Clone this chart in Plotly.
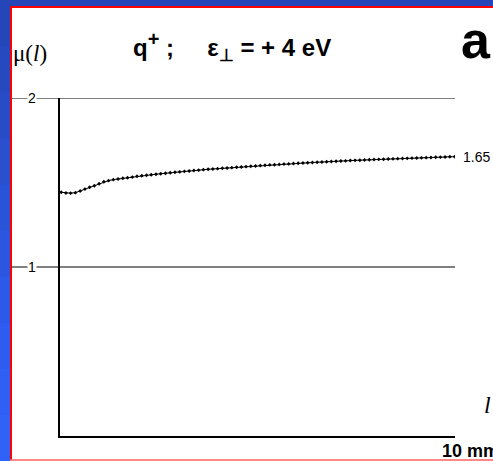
import plotly.graph_objects as go

# distance along the crystal (mm) and mu(l)
dist_mm = [round(0.03 + 0.12 * i, 2) for i in range(84)]
mu_vals = [
    1.442, 1.438, 1.437, 1.440, 1.450, 1.461, 1.472, 1.481, 1.493, 1.504,
    1.511, 1.517, 1.521, 1.525, 1.528, 1.532, 1.537, 1.540, 1.543, 1.546,
    1.549, 1.552, 1.555, 1.558, 1.561, 1.563, 1.566, 1.568, 1.571, 1.573,
    1.576, 1.578, 1.580, 1.582, 1.584, 1.586, 1.588, 1.590, 1.592, 1.594,
    1.596, 1.598, 1.600, 1.602, 1.604, 1.605, 1.607, 1.609, 1.610, 1.612,
    1.614, 1.615, 1.617, 1.618, 1.620, 1.621, 1.623, 1.624, 1.626, 1.627,
    1.628, 1.630, 1.631, 1.632, 1.633, 1.635, 1.636, 1.637, 1.638, 1.639,
    1.640, 1.641, 1.642, 1.643, 1.644, 1.645, 1.646, 1.647, 1.648, 1.649,
    1.650, 1.651, 1.652, 1.653,
]
grid_vals = [1, 2]
grid_labels = ['1', '2']
end_label = '1.65'

# left band of the slide, dark blue at the top to bright blue at the bottom
band_colors = ['#2446b8', '#2649c0', '#284cc8', '#2a50d0', '#2b53d8',
               '#2c56e0', '#2d59e8', '#2e5cf0', '#2f5ff5', '#3062f8']

W, H = 493, 461
L, R, T, B = 60, 38, 98, 25


def px(x):
    return (x - L) / (W - L - R)


def py(y):
    return (H - B - y) / (H - T - B)


fig = go.Figure()

fig.add_trace(
    go.Scatter(
        x=dist_mm,
        y=mu_vals,
        mode='lines+markers',
        line=dict(color='black', width=1),
        marker=dict(symbol='diamond', size=3, color='black'),
        showlegend=False,
        hoverinfo='skip',
    )
)

shapes = []
# slide frame: blue paper, white card, red border
shapes.append(dict(type='rect', xref='paper', yref='paper', layer='below',
                   x0=px(10), x1=px(W + 5), y0=py(H + 5), y1=py(6),
                   fillcolor='white', line=dict(width=0)))
step = H / len(band_colors)
for k, c in enumerate(band_colors):
    shapes.append(dict(type='rect', xref='paper', yref='paper', layer='below',
                       x0=px(-2), x1=px(10), y0=py((k + 1) * step + 1), y1=py(k * step),
                       fillcolor=c, line=dict(width=0)))
shapes.append(dict(type='line', xref='paper', yref='paper',
                   x0=px(11), x1=px(11), y0=py(6), y1=py(460),
                   line=dict(color='#ff0000', width=2)))
shapes.append(dict(type='line', xref='paper', yref='paper',
                   x0=px(10), x1=px(W), y0=py(7), y1=py(7),
                   line=dict(color='#ff0000', width=2)))
shapes.append(dict(type='line', xref='paper', yref='paper',
                   x0=px(10), x1=px(W), y0=py(460), y1=py(460),
                   line=dict(color='#ff6060', width=1.5)))
# grid lines running out to the left edge
for g in grid_vals:
    shapes.append(dict(type='line', xref='paper', yref='y',
                       x0=px(12), x1=1, y0=g, y1=g,
                       line=dict(color='black', width=1)))

annotations = []
for g, lab in zip(grid_vals, grid_labels):
    annotations.append(dict(x=px(27), y=g, xref='paper', yref='y', text=lab,
                            showarrow=False, bgcolor='white', borderpad=0,
                            yanchor='middle',
                            font=dict(family='Liberation Sans', size=14, color='black')))
annotations += [
    dict(x=px(11), y=py(53), xref='paper', yref='paper', xanchor='left', yanchor='middle',
         text='μ(<i>l</i>)', showarrow=False,
         font=dict(family='Liberation Serif', size=23, color='black')),
    dict(x=px(131), y=py(46), xref='paper', yref='paper', xanchor='left', yanchor='middle',
         text='<b>q<sup><span style="font-size:20px">+</span></sup> ;   '
              '  ε<sub>⊥</sub> = + 4 eV</b>', showarrow=False,
         font=dict(family='Liberation Sans', size=24, color='black')),
    dict(x=px(459), y=py(40), xref='paper', yref='paper', xanchor='left', yanchor='middle',
         text='<b>a</b>', showarrow=False,
         font=dict(family='Liberation Sans', size=52, color='black')),
    dict(x=px(461), y=mu_vals[-1], xref='paper', yref='y', xanchor='left', yanchor='middle',
         text=end_label, showarrow=False,
         font=dict(family='Liberation Sans', size=14, color='black')),
    dict(x=px(482), y=py(405), xref='paper', yref='paper', xanchor='left', yanchor='middle',
         text='<i>l</i>', showarrow=False,
         font=dict(family='Liberation Serif', size=24, color='black')),
    dict(x=px(440), y=py(451), xref='paper', yref='paper', xanchor='left', yanchor='middle',
         text='<b>10 mm</b>', showarrow=False,
         font=dict(family='Liberation Sans', size=18, color='black')),
]

fig.update_layout(
    width=W,
    height=H,
    margin=dict(l=L, r=R, t=T, b=B),
    paper_bgcolor='#2446b8',
    plot_bgcolor='white',
    shapes=shapes,
    annotations=annotations,
    xaxis=dict(range=[0, 10], showgrid=False, zeroline=False, showticklabels=False,
               ticks='', showline=True, linecolor='black', linewidth=2),
    yaxis=dict(range=[0, 2], showgrid=False, zeroline=False, showticklabels=False,
               ticks='', showline=True, linecolor='black', linewidth=2),
)

# drop the page's default body margin so the figure fills the window
fig.write_html("out.html", config={'displayModeBar': False},
               post_script="document.body.style.margin = '0';")
